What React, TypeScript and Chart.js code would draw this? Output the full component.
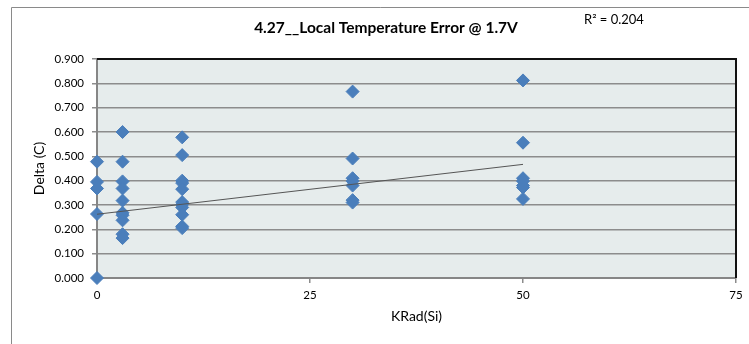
import React, { useEffect, useRef } from "react";
import { Chart, registerables } from "chart.js";

Chart.register(...registerables);

const TITLE = "4.27__Local Temperature Error @ 1.7V";
const R2_LABEL = "R\u00B2 = 0.204";
const X_TITLE = "KRad(Si)";
const Y_TITLE = "Delta (C)";

const kradLevels = [0, 3, 10, 30, 50];
const deltaAt0 = [0.478, 0.395, 0.368, 0.263, 0.0];
const deltaAt3 = [0.6, 0.478, 0.397, 0.368, 0.318, 0.268, 0.258, 0.237, 0.18, 0.164];
const deltaAt10 = [0.578, 0.505, 0.4, 0.39, 0.365, 0.312, 0.302, 0.29, 0.26, 0.212, 0.205];
const deltaAt30 = [0.766, 0.491, 0.41, 0.398, 0.38, 0.32, 0.31];
const deltaAt50 = [0.812, 0.556, 0.41, 0.398, 0.38, 0.372, 0.325];
const deltaGroups = [deltaAt0, deltaAt3, deltaAt10, deltaAt30, deltaAt50];

const trendX = [0, 50];
const trendY = [0.262, 0.467];

const xTicks = [0, 25, 50, 75];
const yTicks = [0, 0.1, 0.2, 0.3, 0.4, 0.5, 0.6, 0.7, 0.8, 0.9];

const FONT = "Lato, 'Open Sans', sans-serif";

export default function App() {
  const ref = useRef<HTMLCanvasElement | null>(null);

  useEffect(() => {
    if (!ref.current) return;
    const points: { x: number; y: number }[] = [];
    kradLevels.forEach((k, i) => {
      deltaGroups[i].forEach((v) => points.push({ x: k, y: v }));
    });
    const trend = trendX.map((x, i) => ({ x, y: trendY[i] }));

    const framePlugin = {
      id: "frame",
      beforeDraw(chart: any) {
        const { ctx, chartArea } = chart;
        ctx.save();
        ctx.fillStyle = "#ffffff";
        ctx.fillRect(0, 0, chart.width, chart.height);
        ctx.strokeStyle = "#8a8a8a";
        ctx.lineWidth = 1;
        ctx.beginPath();
        ctx.moveTo(11.5, chart.height + 2);
        ctx.lineTo(11.5, 7.5);
        ctx.lineTo(chart.width + 2, 7.5);
        ctx.stroke();
        ctx.fillStyle = "#E6ECEC";
        ctx.fillRect(chartArea.left, chartArea.top, chartArea.right - chartArea.left, chartArea.bottom - chartArea.top);
        ctx.restore();
      },
      beforeDatasetsDraw(chart: any) {
        const { ctx, chartArea } = chart;
        ctx.save();
        ctx.strokeStyle = "#111111";
        ctx.lineWidth = 2;
        ctx.beginPath();
        ctx.moveTo(chartArea.left, chartArea.top);
        ctx.lineTo(chartArea.right, chartArea.top);
        ctx.lineTo(chartArea.right, chartArea.bottom);
        ctx.stroke();
        ctx.restore();
      },
      afterDraw(chart: any) {
        const { ctx } = chart;
        ctx.save();
        ctx.fillStyle = "#000000";
        ctx.textBaseline = "middle";
        ctx.font = "bold 15.5px " + FONT;
        ctx.textAlign = "center";
        ctx.fillText(TITLE, 386, 28);
        ctx.font = "13px " + FONT;
        ctx.textAlign = "left";
        ctx.fillText(R2_LABEL, 584, 20);
        ctx.restore();
      },
    };

    const chart = new Chart(ref.current, {
      type: "scatter",
      data: {
        datasets: [
          {
            label: "Delta",
            data: points,
            pointStyle: "rectRot",
            pointRadius: 6.5,
            pointBackgroundColor: "#4A7EBB",
            pointBorderColor: "#4A7EBB",
            pointBorderWidth: 1,
            clip: false,
            order: 1,
          } as any,
          {
            label: "Trend",
            data: trend,
            showLine: true,
            pointRadius: 0,
            borderColor: "#555555",
            borderWidth: 1,
            order: 0,
          } as any,
        ],
      },
      options: {
        animation: false,
        responsive: false,
        events: [],
        layout: { padding: { left: 0, right: 13, top: 59, bottom: 0 } },
        plugins: {
          legend: { display: false },
          tooltip: { enabled: false },
          title: { display: false },
        },
        scales: {
          x: {
            type: "linear",
            min: 0,
            max: 75,
            afterFit: (s: any) => {
              s.height = 66;
            },
            afterBuildTicks: (s: any) => {
              s.ticks = xTicks.map((v) => ({ value: v }));
            },
            ticks: {
              color: "#000000",
              font: { family: FONT, size: 11.5 },
              padding: 5,
              callback: (v: any) => String(v),
            },
            grid: {
              drawOnChartArea: false,
              drawTicks: true,
              tickLength: 5,
              color: "#8c8c8c",
              lineWidth: 1.5,
            },
            border: { display: true, color: "#868686", width: 2 },
            title: {
              display: true,
              text: X_TITLE,
              color: "#000000",
              font: { family: FONT, size: 14 },
              padding: { top: 0, bottom: 19 },
            },
          },
          y: {
            type: "linear",
            min: 0,
            max: 0.9,
            afterFit: (s: any) => {
              s.width = 97;
            },
            afterBuildTicks: (s: any) => {
              s.ticks = yTicks.map((v) => ({ value: v }));
            },
            ticks: {
              color: "#000000",
              font: { family: FONT, size: 11.5 },
              padding: 8,
              callback: (v: any) => Number(v).toFixed(3),
            },
            grid: {
              drawTicks: true,
              tickLength: 5,
              color: "#8c8c8c",
              lineWidth: 1.5,
            },
            border: { display: true, color: "#868686", width: 2 },
            title: {
              display: true,
              text: Y_TITLE,
              color: "#000000",
              font: { family: FONT, size: 14 },
              padding: { top: 31, bottom: 0 },
            },
          },
        },
      },
      plugins: [framePlugin],
    });
    return () => chart.destroy();
  }, []);

  return (
    <div style={{ position: "fixed", left: 0, top: 0, width: 749, height: 344, background: "#fff" }}>
      <canvas ref={ref} width={749} height={344} style={{ display: "block" }} />
    </div>
  );
}
